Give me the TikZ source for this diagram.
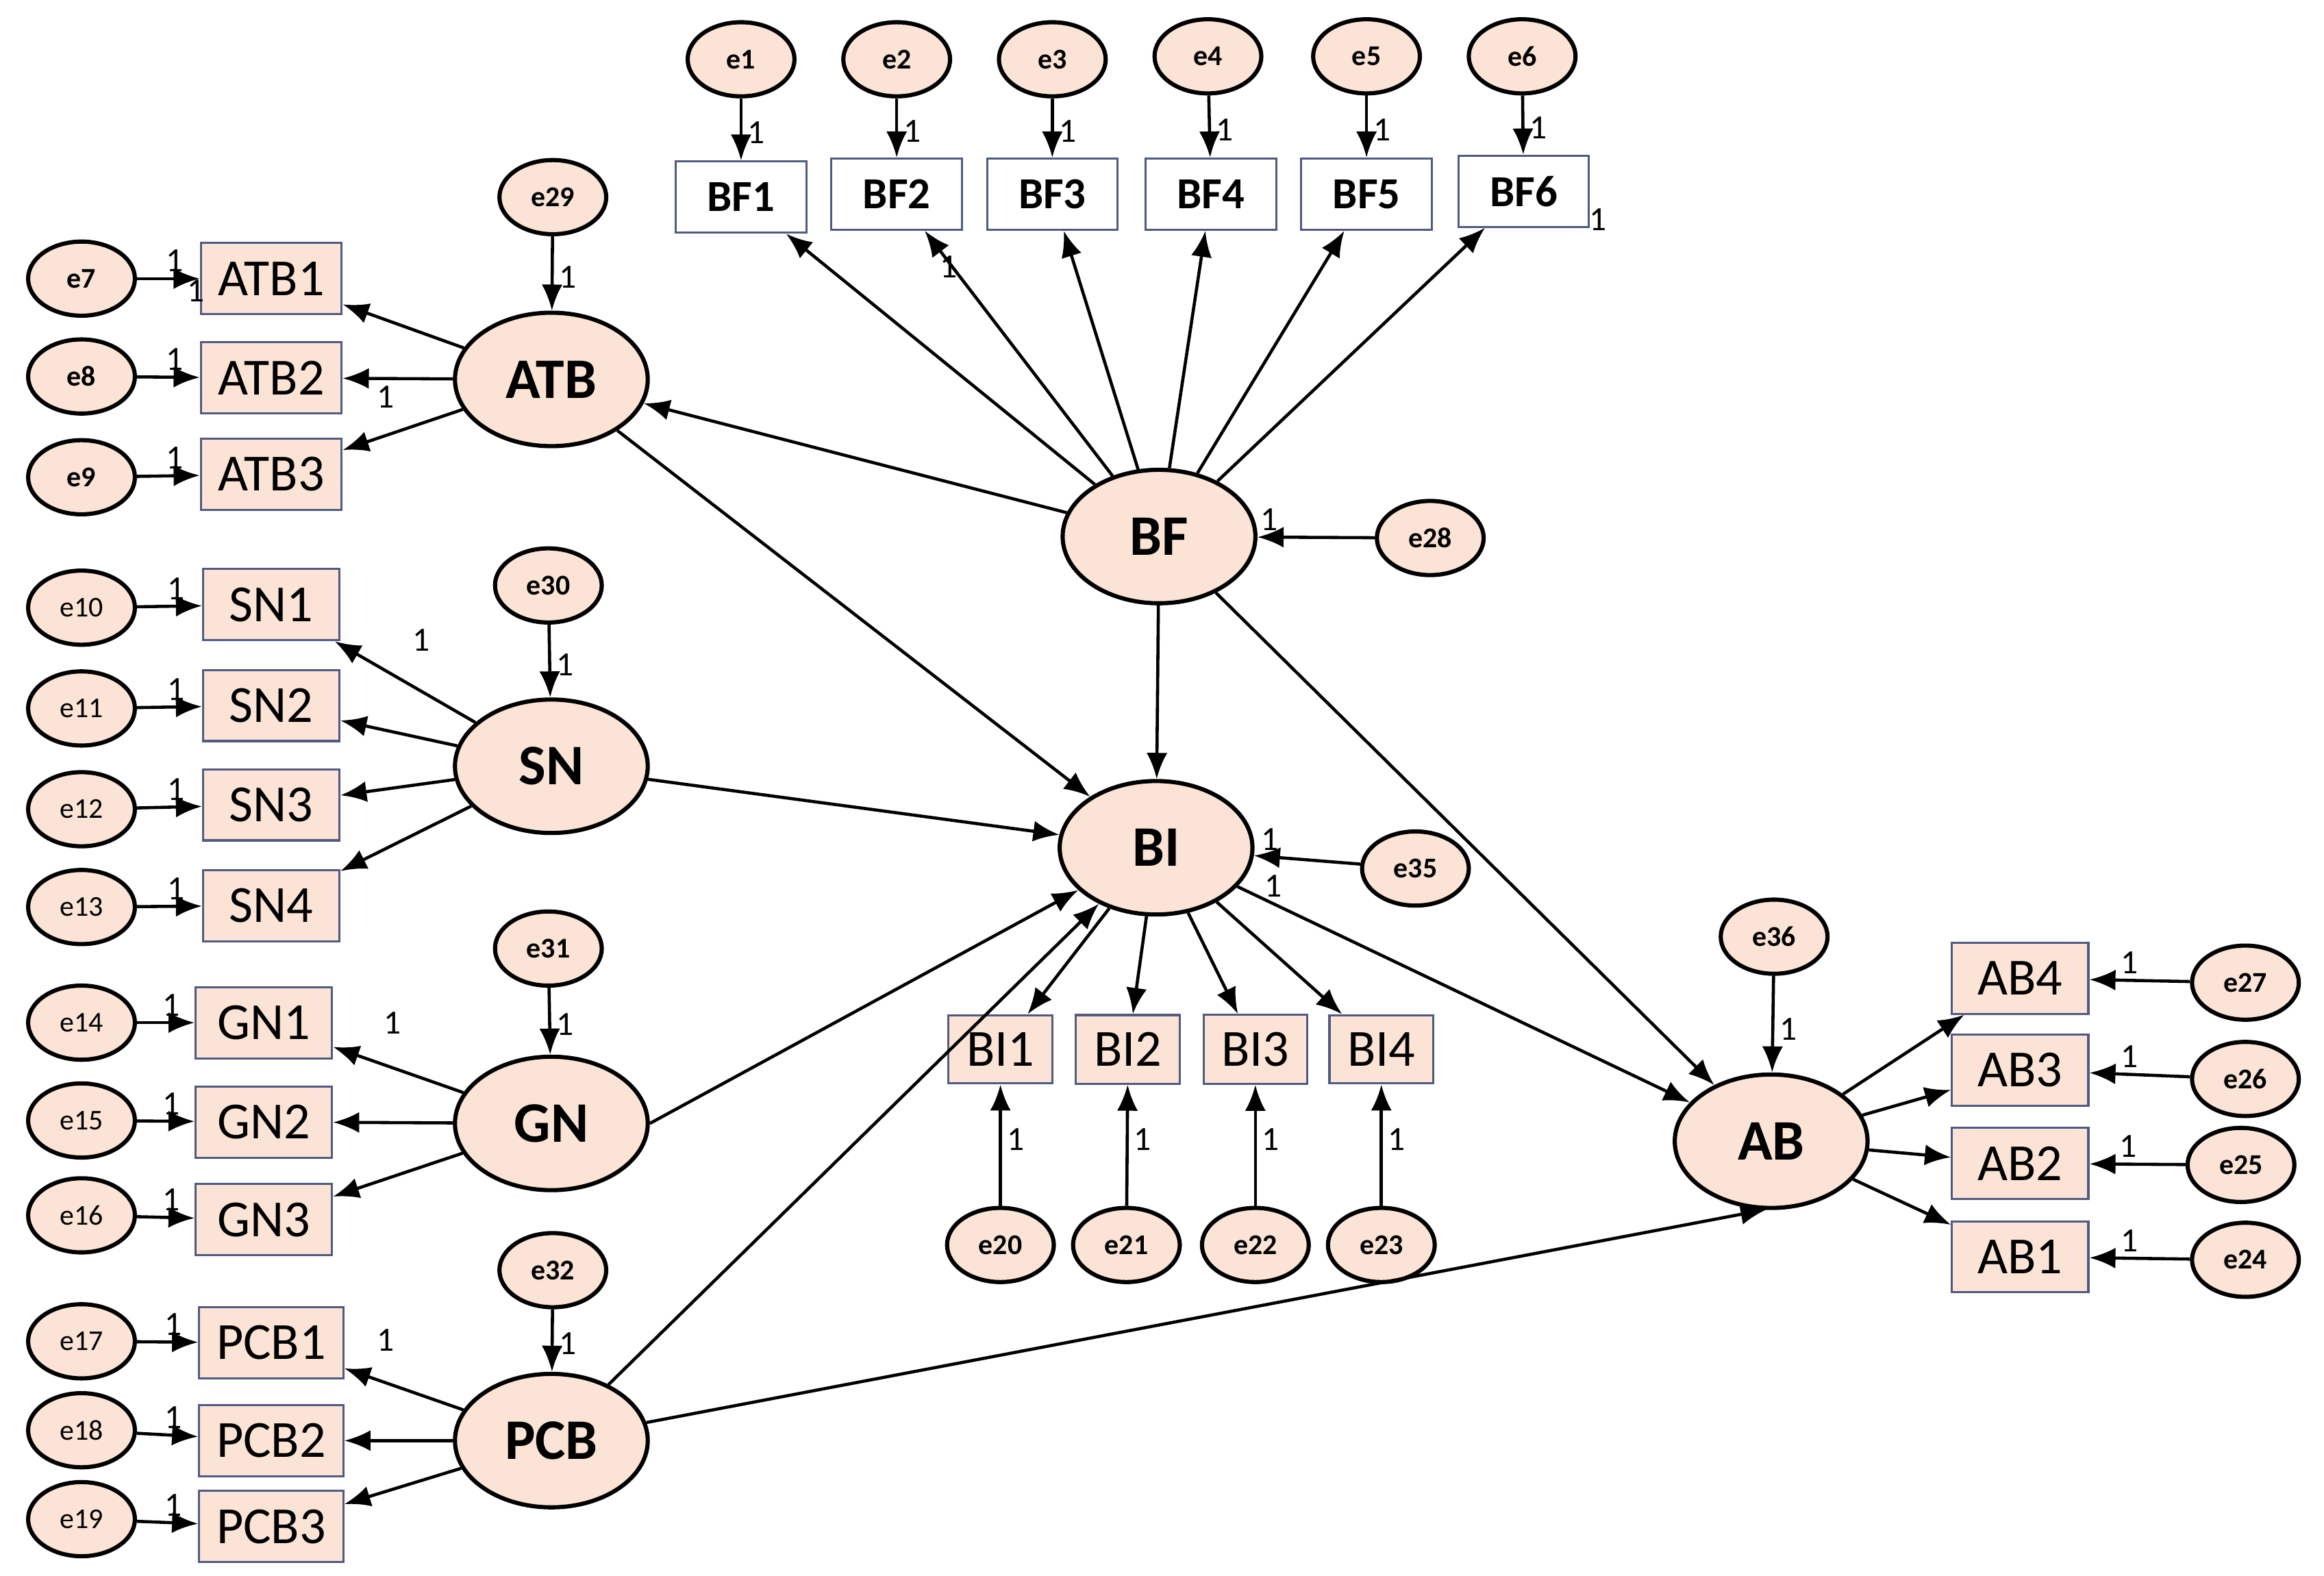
\documentclass[tikz,border=0pt]{standalone}
\usepackage{fontspec}
\setmainfont{Carlito}
\usetikzlibrary{arrows.meta,shapes.geometric}
\definecolor{peach}{RGB}{251,228,213}
\definecolor{boxline}{RGB}{80,90,130}
\tikzset{
    every node/.style={align=center,},
    latent/.style={draw,thick,ellipse,fill=peach,minimum width=1.3cm,minimum height=0.9cm,font=\bfseries\fontsize{11}{12}\selectfont},
    err/.style={draw,thick,ellipse,fill=peach,minimum width=0.72cm,minimum height=0.5cm,inner sep=0pt,font=\bfseries\fontsize{5.5}{6}\selectfont},
    errs/.style={err,font=\rmfamily\fontsize{5.5}{6}\selectfont},
    item/.style={draw=boxline,rectangle,fill=peach,minimum width=0.92cm,minimum height=0.48cm,font=\fontsize{10}{11}\selectfont},
    bfitem/.style={draw=boxline,rectangle,fill=white,minimum width=0.88cm,minimum height=0.48cm,font=\bfseries\fontsize{8.5}{10}\selectfont},
    biitem/.style={item,minimum width=0.7cm,minimum height=0.46cm},
    arr/.style={-{Latex[length=5pt,width=4pt]},semithick},
    one/.style={font=\fontsize{6.5}{7}\selectfont,inner sep=1pt},
}
\begin{document}
\begin{tikzpicture}[x=0.01cm,y=-0.01cm]
\useasboundingbox (0,0) rectangle (1568,1063);
% latent variables
\node[latent] (ATB) at (372,256) {ATB};
\node[latent] (SN) at (372,517) {SN};
\node[latent] (GN) at (372,758) {GN};
\node[latent] (PCB) at (372,972) {PCB};
\node[latent] (BF) at (782,362) {BF};
\node[latent] (BI) at (780,572) {BI};
\node[latent] (AB) at (1195,770) {AB};
% observed variables
\foreach \n/\x/\y in {BF1/500/133,BF2/605/131,BF3/710/131,BF4/817/131,BF5/922/131,BF6/1028/129}
    \node[bfitem] (\n) at (\x,\y) {\n};
\foreach \n/\x/\y in {ATB1/183/188,ATB2/183/255,ATB3/183/320,SN1/183/408,SN2/183/476,SN3/183/543,SN4/183/611,GN1/178/690,GN2/178/757,GN3/178/823,PCB1/183/906,PCB2/183/972,PCB3/183/1030,AB4/1363/660,AB3/1363/722,AB2/1363/785,AB1/1363/848}
    \node[item] (\n) at (\x,\y) {\n};
\foreach \n/\x in {BI1/675,BI2/761,BI3/847,BI4/932}
    \node[biitem] (\n) at (\x,708) {\n};
% error terms
\foreach \n/\x/\y in {e1/500/40,e2/605/40,e3/710/40,e4/815/38,e5/922/38,e6/1027/38,e7/55/188,e8/55/254,e9/55/322,e28/965/363,e29/373/133,e30/370/395,e31/370/640,e32/373/857,e35/955/586,e36/1197/632,e20/675/840,e21/760/840,e22/847/840,e23/932/840,e27/1515/663,e26/1515/728,e25/1512/786,e24/1515/850}
    \node[err] (\n) at (\x,\y) {\n};
\foreach \n/\y in {e10/410,e11/478,e12/546,e13/612,e14/690,e15/756,e16/820,e17/905,e18/965,e19/1025}
    \node[errs] (\n) at (55,\y) {\n};
\coordinate (ABin) at (1192,816);
% error paths
\foreach \e/\b in {e1/BF1,e2/BF2,e3/BF3,e4/BF4,e5/BF5,e6/BF6,e20/BI1,e21/BI2,e22/BI3,e23/BI4,e29/ATB,e30/SN,e31/GN,e32/PCB,e36/AB}
    \draw[arr] (\e) -- (\b) node[one,right,pos=0.55] {1};
\foreach \e/\b in {e7/ATB1,e8/ATB2,e9/ATB3,e10/SN1,e11/SN2,e12/SN3,e13/SN4,e14/GN1,e15/GN2,e16/GN3,e17/PCB1,e18/PCB2,e19/PCB3,e27/AB4,e26/AB3,e25/AB2,e24/AB1}
    \draw[arr] (\e) -- (\b) node[one,above,pos=0.6] {1};
\draw[arr] (e28) -- (BF) node[one,above,pos=0.9] {1};
\draw[arr] (e35) -- (BI) node[one,above,pos=0.85] {1};
% loadings
\foreach \l/\b in {ATB/ATB1,ATB/ATB2,ATB/ATB3,SN/SN1,SN/SN2,SN/SN3,SN/SN4,GN/GN1,GN/GN2,GN/GN3,PCB/PCB1,PCB/PCB2,PCB/PCB3,BF/BF1,BF/BF2,BF/BF3,BF/BF4,BF/BF5,BF/BF6,BI/BI1,BI/BI2,BI/BI3,BI/BI4,AB/AB4,AB/AB3,AB/AB2,AB/AB1}
    \draw[arr] (\l) -- (\b);
\node[one] at (260,268) {1};
\node[one] at (284,432) {1};
\node[one] at (265,690) {1};
\node[one] at (260,904) {1};
\node[one] at (640,180) {1};
\node[one] at (1078,148) {1};
\node[one] at (132,196) {1};
% structural paths
\draw[arr] (BF) -- (ATB);
\draw[arr] (BF) -- (BI);
\draw[arr] (BF) -- (AB);
\draw[arr] (ATB) -- (BI);
\draw[arr] (SN) -- (BI);
\draw[arr] (GN.east) -- (BI);
\draw[arr] (PCB) -- (BI);
\draw[arr] (BI) -- (AB) node[one,above,pos=0.08] {1};
\draw[arr] (PCB) -- (ABin);
\end{tikzpicture}
\end{document}
